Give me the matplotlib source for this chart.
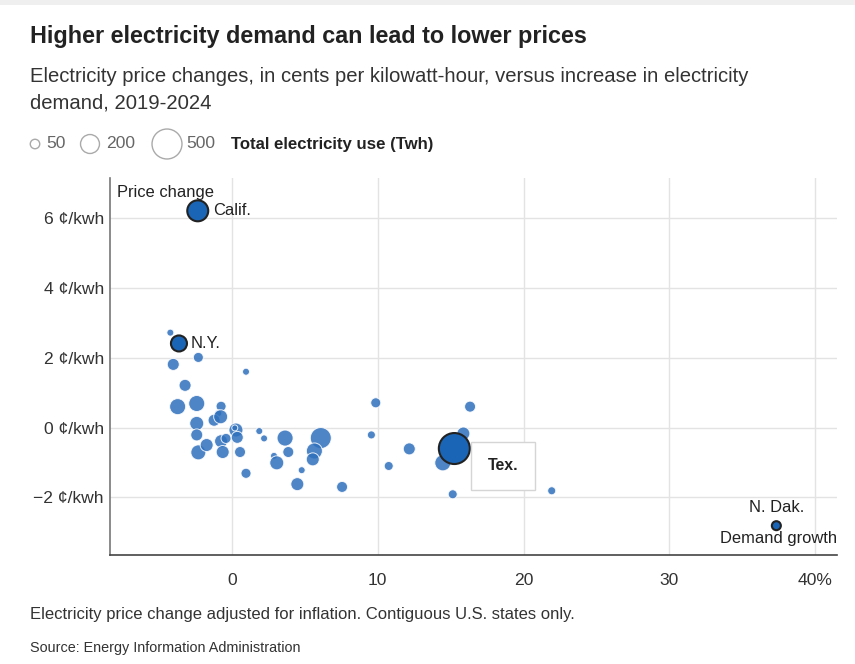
import matplotlib
matplotlib.use("Agg")
import matplotlib.pyplot as plt
import numpy as np

plt.rcParams['font.family'] = ['Liberation Sans', 'DejaVu Sans']

# ---------------- data ----------------
# demand growth (%), price change (cents/kwh), total use (Twh)
hl_names = ["Calif.", "N.Y.", "Tex.", "N. Dak."]
hl_growth = [-2.35, -3.64, 15.25, 37.34]
hl_price = [6.21, 2.41, -0.60, -2.81]
hl_twh = [245, 143, 535, 45]

growth = [-4.23, -4.03, -2.31, 0.96, -3.22, -3.73, -2.42, -0.75, -0.94, -1.23,
          -0.78, -2.42, -2.42, -2.31, -1.74, -0.75, -0.64, -0.41, 0.27, 0.19,
          0.36, 0.55, 0.96, 1.87, 2.20, 3.64, 3.86, 2.88, 3.07, 4.78,
          4.48, 6.09, 5.65, 5.54, 7.55, 9.56, 9.86, 10.75, 16.33, 15.87,
          12.16, 14.46, 15.14, 21.93]
price = [2.72, 1.81, 2.01, 1.60, 1.21, 0.60, 0.69, 0.61, 0.41, 0.21,
         0.31, 0.12, -0.21, -0.71, -0.50, -0.39, -0.70, -0.31, -0.07, -0.01,
         -0.28, -0.70, -1.31, -0.10, -0.31, -0.30, -0.70, -0.81, -1.01, -1.22,
         -1.62, -0.30, -0.67, -0.91, -1.70, -0.21, 0.71, -1.10, 0.60, -0.17,
         -0.61, -1.01, -1.91, -1.81]
twh = [27, 80, 56, 27, 80, 143, 143, 56, 27, 80,
       109, 109, 80, 125, 94, 94, 94, 56, 109, 20,
       80, 67, 56, 27, 27, 143, 67, 27, 109, 27,
       94, 245, 143, 94, 67, 36, 56, 45, 67, 94,
       80, 143, 45, 36]

legend_vals = [50, 200, 500]
x_ticks = [0, 10, 20, 30, 40]
x_labels = ["0", "10", "20", "30", "40%"]
y_ticks = [6, 4, 2, 0, -2]
y_labels = ["6 ¢/kwh", "4 ¢/kwh", "2 ¢/kwh", "0 ¢/kwh", "\u22122 ¢/kwh"]

W, H = 855, 664
DPI = 100


def area(v):
    r_px = 0.67 * np.sqrt(np.asarray(v, dtype=float))
    return (2 * r_px * 72.0 / DPI) ** 2


fig = plt.figure(figsize=(W / DPI, H / DPI), dpi=DPI)
fig.patch.set_facecolor("white")

# overlay axes in pixel coordinates for header/footer text
ov = fig.add_axes([0, 0, 1, 1])
ov.set_xlim(0, W)
ov.set_ylim(H, 0)
ov.axis("off")
ov.axhspan(0, 5, color="#efefef", lw=0)

ov.text(30, 37, "Higher electricity demand can lead to lower prices",
        fontsize=16.8, fontweight="bold", color="#222222", va="center", ha="left")
ov.text(30, 77, "Electricity price changes, in cents per kilowatt-hour, versus increase in electricity",
        fontsize=14.6, color="#333333", va="center", ha="left")
ov.text(30, 103, "demand, 2019-2024", fontsize=14.6, color="#333333", va="center", ha="left")

# size legend
leg_x = [35, 90, 167]
ov.scatter(leg_x, [144] * 3, s=area(legend_vals), facecolor="white",
           edgecolor="#aaaaaa", linewidth=1, zorder=3)
for lx, v, tx in zip(leg_x, legend_vals, [46, 106, 186]):
    ov.text(tx, 144, str(v), fontsize=12.6, color="#666666", va="center", ha="left")
ov.text(231, 144, "Total electricity use (Twh)", fontsize=12.1, fontweight="bold",
        color="#222222", va="center", ha="left")

ov.text(30, 615, "Electricity price change adjusted for inflation. Contiguous U.S. states only.",
        fontsize=11.95, color="#333333", va="center", ha="left")
ov.text(30, 648, "Source: Energy Information Administration",
        fontsize=10.4, color="#333333", va="center", ha="left")

# main axes
ax = fig.add_axes([110 / W, 1 - 555 / H, (837 - 110) / W, (555 - 178) / H])
ax.set_facecolor("none")
ax.set_xlim(-8.37, 41.5)
ax.set_ylim(-3.65, 7.15)
ax.set_xticks(x_ticks)
ax.set_xticklabels(x_labels)
ax.set_yticks(y_ticks)
ax.set_yticklabels(y_labels)
ax.tick_params(length=0, labelsize=12.6, colors="#333333")
ax.tick_params(axis="x", pad=13)
ax.tick_params(axis="y", pad=4.5)
ax.grid(True, color="#e3e3e3", lw=1)
ax.set_axisbelow(True)
for s in ["top", "right"]:
    ax.spines[s].set_visible(False)
ax.spines["left"].set_color("#777777")
ax.spines["bottom"].set_color("#444444")
ax.spines["left"].set_linewidth(1.2)
ax.spines["bottom"].set_linewidth(1.2)

ax.scatter(growth, price, s=area(twh), color="#2f70bd", alpha=0.85,
           edgecolor="white", linewidth=0.7, zorder=3)
ax.scatter(hl_growth, hl_price, s=area(hl_twh), color="#1a65b5",
           edgecolor="#222222", linewidth=1.5, zorder=4)

# labels
lab_kw = dict(fontsize=11.9, color="#222222", textcoords="offset points", zorder=5)
ax.annotate("Calif.", (hl_growth[0], hl_price[0]), xytext=(11, 0), ha="left", va="center", **lab_kw)
ax.annotate("N.Y.", (hl_growth[1], hl_price[1]), xytext=(8.5, 0), ha="left", va="center", **lab_kw)
ax.annotate("N. Dak.", (hl_growth[3], hl_price[3]), xytext=(0, 13), ha="center", va="center", **lab_kw)
ax.annotate("Tex.", (hl_growth[2], hl_price[2]), xytext=(35, -12.5), ha="center", va="center",
            fontsize=11.4, fontweight="bold", color="#222222", textcoords="offset points", zorder=6,
            bbox=dict(boxstyle="square,pad=1.05", fc="white", ec="#d5d5d5", lw=1))

ax.text(0.01, 1.0 - 14 / 377, "Price change", transform=ax.transAxes, fontsize=11.9,
        color="#222222", ha="left", va="center", zorder=5)
ax.text(1.0, 16 / 377, "Demand growth", transform=ax.transAxes, fontsize=11.9,
        color="#222222", ha="right", va="center", zorder=5)

fig.savefig("out.png", dpi=DPI, facecolor="white")
